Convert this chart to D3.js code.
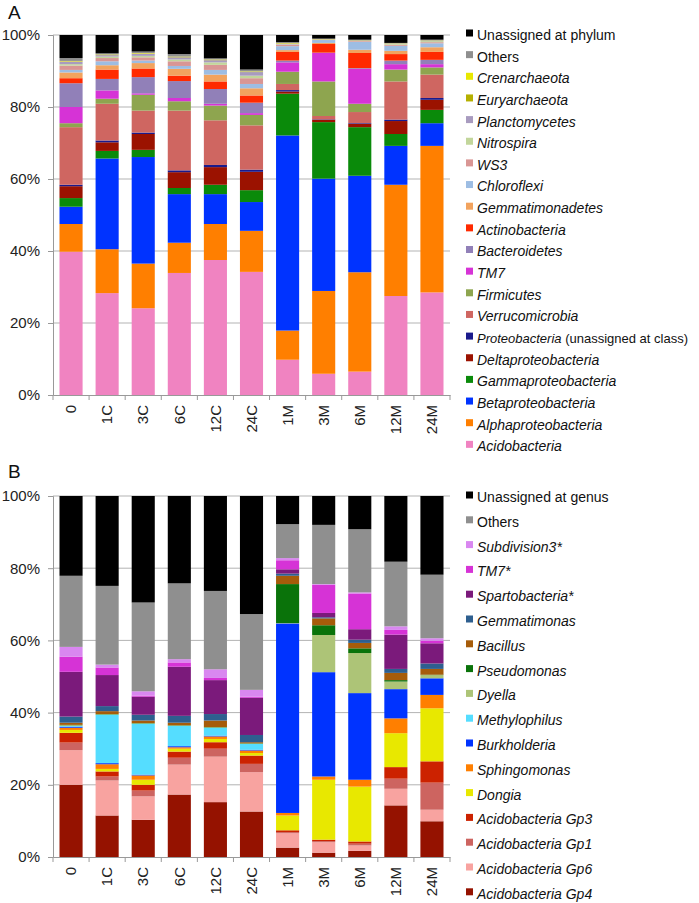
<!DOCTYPE html>
<html><head><meta charset="utf-8">
<script src="https://cdn.jsdelivr.net/npm/d3@7"></script>
<style>body{margin:0;background:#fff}svg{display:block;font-family:"Liberation Sans",Arial,sans-serif}</style>
</head><body><svg id="c" width="699" height="903"></svg>
<script>
const samples = ["0","1C","3C","6C","12C","24C","1M","3M","6M","12M","24M"];
const yTicks = [0,20,40,60,80,100];

// Panel A: phyla, bottom-to-top stacking order
const phylaA = ["Acidobacteria","Alphaproteobacteria","Betaproteobacteria","Gammaproteobacteria","Deltaproteobacteria","Proteobacteria","Verrucomicrobia","Firmicutes","TM7","Bacteroidetes","Actinobacteria","Gemmatimonadetes","Chloroflexi","WS3","Nitrospira","Planctomycetes","Euryarchaeota","Crenarchaeota","Others","Unassigned at phylum"];
const colorsA = ["#f083c1","#ff7f00","#0033ff","#0a8a0a","#9b1200","#1a1a8c","#cf6661","#8ea54f","#d633d6","#9180b8","#ff2a00","#f2a35e","#9dbde3","#d99694","#c2d69b","#a89bbf","#b5b000","#e8e800","#8f8f8f","#000000"];
const acidobacteria   = [39.8,28.3,24.1,33.9,37.5,34.2, 9.8, 5.9, 6.5,27.5,28.5];
const alphaproteo     = [ 7.7,12.2,12.4, 8.4,10.0,11.4, 8.1,23.0,27.6,30.9,40.7];
const betaproteo      = [ 4.8,25.2,29.6,13.5, 8.3, 8.0,54.2,31.2,26.8,10.8, 6.3];
const gammaproteo     = [ 2.4, 2.1, 2.0, 1.7, 2.6, 3.3,11.6,15.7,13.5, 3.3, 3.7];
const deltaproteo     = [ 3.3, 2.4, 4.4, 4.4, 4.9, 5.1, 0.6, 0.7, 0.9, 3.6, 2.8];
const proteoUnassigned= [ 0.4, 0.5, 0.4, 0.5, 0.6, 0.6, 0.4, 0.1, 0.2, 0.4, 0.5];
const verrucomicrobia = [16.0,10.2, 6.1,16.6,12.4,12.3, 1.7, 0.9, 3.1,10.6, 6.5];
const firmicutes      = [ 1.1, 1.4, 4.4, 2.6, 4.1, 2.9, 3.4, 9.6, 2.3, 3.3, 2.0];
const tm7A            = [ 4.5, 2.3, 0.4, 0.9, 0.5, 0.5, 2.6, 7.9, 9.7, 1.5, 0.9];
const bacteroidetes   = [ 6.6, 3.2, 4.5, 4.7, 4.1, 2.9, 0.5, 0.1, 0.2, 1.0, 1.2];
const actinobacteria  = [ 1.4, 2.6, 2.4, 1.5, 2.1, 2.0, 2.4, 2.4, 4.2, 1.8, 2.2];
const gemmatimonadetes= [ 1.6, 1.2, 1.5, 1.9, 1.9, 2.0, 0.5, 0.3, 0.9, 0.9, 1.3];
const chloroflexi     = [ 0.7, 1.1, 0.7, 0.8, 1.3, 1.2, 1.1, 0.8, 2.2, 1.4, 1.1];
const ws3             = [ 1.2, 0.9, 0.9, 1.3, 1.4, 1.6, 0.4, 0.1, 0.2, 0.3, 0.3];
const nitrospira      = [ 0.4, 0.4, 0.4, 0.5, 0.7, 0.7, 0.1, 0.05,0.05,0.2, 0.3];
const planctomycetes  = [ 0.7, 0.4, 0.6, 0.6, 0.6, 1.0, 0.2, 0.05,0.05,0.1, 0.1];
const euryarchaeota   = [ 0.1, 0.1, 0.1, 0.1, 0.1, 0.1, 0.1, 0.05,0.05,0.05,0.05];
const crenarchaeota   = [ 0.1, 0.1, 0.1, 0.1, 0.1, 0.1, 0.1, 0.05,0.05,0.05,0.05];
const othersA         = [ 0.8, 0.3, 0.4, 0.7, 0.3, 0.5, 0.2, 0.1, 0.2, 0.1, 0.2];
const unassignedPhylum= [ 6.4, 5.1, 4.6, 5.3, 6.5, 9.6, 2.0, 1.0, 1.5, 2.2, 1.3];
const valuesA = [acidobacteria,alphaproteo,betaproteo,gammaproteo,deltaproteo,proteoUnassigned,verrucomicrobia,firmicutes,tm7A,bacteroidetes,actinobacteria,gemmatimonadetes,chloroflexi,ws3,nitrospira,planctomycetes,euryarchaeota,crenarchaeota,othersA,unassignedPhylum];

// Panel B: genera, bottom-to-top stacking order
const generaB = ["Acidobacteria Gp4","Acidobacteria Gp6","Acidobacteria Gp1","Acidobacteria Gp3","Dongia","Sphingomonas","Burkholderia","Methylophilus","Dyella","Pseudomonas","Bacillus","Gemmatimonas","Spartobacteria*","TM7*","Subdivision3*","Others","Unassigned at genus"];
const colorsB = ["#951200","#f8a3a0","#cd6460","#cc2200","#e8e800","#ff7f00","#0033ff","#55ddff","#adc477","#0a730a","#a65c0a","#2e5f8f","#7b1a7b","#d633d6","#d987f0","#8f8f8f","#000000"];
const gp4           = [20.0,11.5,10.3,17.3,15.2,12.6, 2.6, 1.2, 1.7,14.3, 9.9];
const gp6           = [ 9.6, 9.7, 6.5, 8.3,12.6,10.9, 4.0, 2.9, 1.5, 4.6, 3.2];
const gp1           = [ 2.1, 1.1, 1.6, 1.9, 2.2, 2.3, 0.3, 0.3, 0.5, 2.8, 7.5];
const gp3           = [ 2.7, 1.4, 1.6, 1.7, 1.8, 2.3, 0.5, 0.4, 0.6, 3.2, 5.9];
const dongia        = [ 0.8, 0.7, 1.4, 0.8, 0.9, 0.7, 4.1,16.6,15.2, 9.4,14.7];
const sphingomonas  = [ 0.6, 1.3, 1.2, 0.4, 0.7, 0.7, 0.7, 0.9, 1.9, 4.1, 3.7];
const burkholderia  = [ 0.3, 0.3, 0.2, 0.3, 0.2, 0.2,52.5,28.9,24.0, 8.1, 4.6];
const methylophilus = [ 0.2,13.4,14.1, 5.6, 2.2, 1.6, 0.0, 0.0, 0.0, 0.0, 0.0];
const dyella        = [ 0.2, 0.1, 0.1, 0.1, 0.1, 0.1, 0.1,10.3,11.1, 2.1, 0.9];
const pseudomonas   = [ 0.1, 0.1, 0.1, 0.1, 0.1, 0.1,10.8, 2.7, 1.3, 0.4, 0.1];
const bacillus      = [ 0.6, 0.8, 0.7, 0.7, 1.8, 0.3, 2.3, 1.9, 1.5, 2.0, 1.6];
const gemmatimonas  = [ 1.7, 1.4, 1.6, 1.9, 1.8, 2.0, 0.6, 0.3, 0.9, 1.1, 1.5];
const spartobacteria= [12.4, 8.6, 5.0,13.6, 9.4,10.3, 1.2, 1.2, 2.9, 9.5, 5.6];
const tm7B          = [ 4.2, 2.1, 0.3, 1.2, 0.6, 0.3, 2.5, 7.8, 9.9, 1.3, 0.7];
const subdivision3  = [ 2.7, 0.8, 1.2, 0.9, 2.4, 1.9, 0.6, 0.2, 0.3, 1.0, 0.7];
const othersB       = [19.7,21.8,24.6,21.0,21.7,21.0, 9.4,16.4,17.5,17.9,17.6];
const unassignedGenus=[22.1,24.9,29.5,24.2,26.3,32.7, 7.8, 8.0, 9.2,18.2,21.8];
const valuesB = [gp4,gp6,gp1,gp3,dongia,sphingomonas,burkholderia,methylophilus,dyella,pseudomonas,bacillus,gemmatimonas,spartobacteria,tm7B,subdivision3,othersB,unassignedGenus];

const svg = d3.select("#c");
const x = d3.scaleBand().domain(samples).range([53, 450]).paddingInner(0.36).paddingOuter(0.18);

function panel(keys, values, colors, y0, y1, letter, letterY, legendY0, legendStep) {
  const y = d3.scaleLinear().domain([0, 100]).range([y0, y1]);
  const g = svg.append("g");
  g.append("g").selectAll("line").data(yTicks.slice(1)).join("line")
    .attr("x1", 53).attr("x2", 450).attr("y1", d => y(d)).attr("y2", d => y(d))
    .attr("stroke", "#b3b3b3").attr("stroke-width", 1);
  const rows = samples.map((s, i) => { const r = {sample: s}; keys.forEach((k, j) => r[k] = values[j][i]); return r; });
  const series = d3.stack().keys(keys)(rows);
  g.append("g").selectAll("g").data(series).join("g").attr("fill", (d, i) => colors[i])
    .selectAll("rect").data(d => d).join("rect")
    .attr("x", d => x(d.data.sample)).attr("width", x.bandwidth())
    .attr("y", d => y(Math.min(100, d[1]))).attr("height", d => Math.max(0, y(d[0]) - y(Math.min(100, d[1]))));
  const ya = g.append("g").attr("transform", "translate(53,0)")
    .call(d3.axisLeft(y).tickValues(yTicks).tickFormat(d => d + "%").tickSize(5).tickPadding(8));
  ya.select(".domain").attr("stroke", "#999");
  ya.selectAll(".tick line").attr("stroke", "#999");
  ya.selectAll("text").attr("font-size", 15).attr("fill", "#222").attr("font-family", "Liberation Sans, Arial, sans-serif");
  const xa = g.append("g").attr("transform", `translate(0,${y0})`)
    .call(d3.axisBottom(x).tickSize(0).tickPadding(0));
  xa.select(".domain").attr("stroke", "#999");
  xa.selectAll(".tick text").attr("transform", "rotate(-90)").attr("text-anchor", "end")
    .attr("x", -10).attr("y", 0).attr("dy", "0.35em").attr("font-size", 15).attr("fill", "#222")
    .attr("font-family", "Liberation Sans, Arial, sans-serif");
  const bounds = samples.map(s => x(s) - x.step() * x.paddingInner() / 2).concat([450]);
  g.append("g").selectAll("line").data(bounds).join("line")
    .attr("x1", d => d).attr("x2", d => d).attr("y1", y0).attr("y2", y0 + 5).attr("stroke", "#999");
  svg.append("text").attr("x", 8).attr("y", letterY).attr("font-size", 19).attr("fill", "#111").text(letter);
  const leg = svg.append("g");
  const order = keys.map((k, i) => i).reverse();
  order.forEach((idx, r) => {
    const cy = legendY0 + r * legendStep;
    leg.append("rect").attr("x", 466).attr("y", cy - 5.5).attr("width", 7).attr("height", 7).attr("fill", colors[idx]);
    const t = leg.append("text").attr("x", 477).attr("y", cy).attr("dy", "0.35em").attr("font-size", 14).attr("fill", "#111");
    const name = keys[idx];
    const plain = name.startsWith("Unassigned") || name === "Others";
    if (name === "Proteobacteria") {
      t.attr("font-size", 13);
      t.append("tspan").attr("font-style", "italic").text("Proteobacteria");
      t.append("tspan").text(" (unassigned at class)");
    } else {
      t.attr("font-style", plain ? "normal" : "italic").text(name);
    }
  });
}

panel(phylaA, valuesA, colorsA, 395, 35, "A", 19, 35, 21.65);
panel(generaB, valuesB, colorsB, 857, 496, "B", 478, 497, 24.8);
</script></body></html>
